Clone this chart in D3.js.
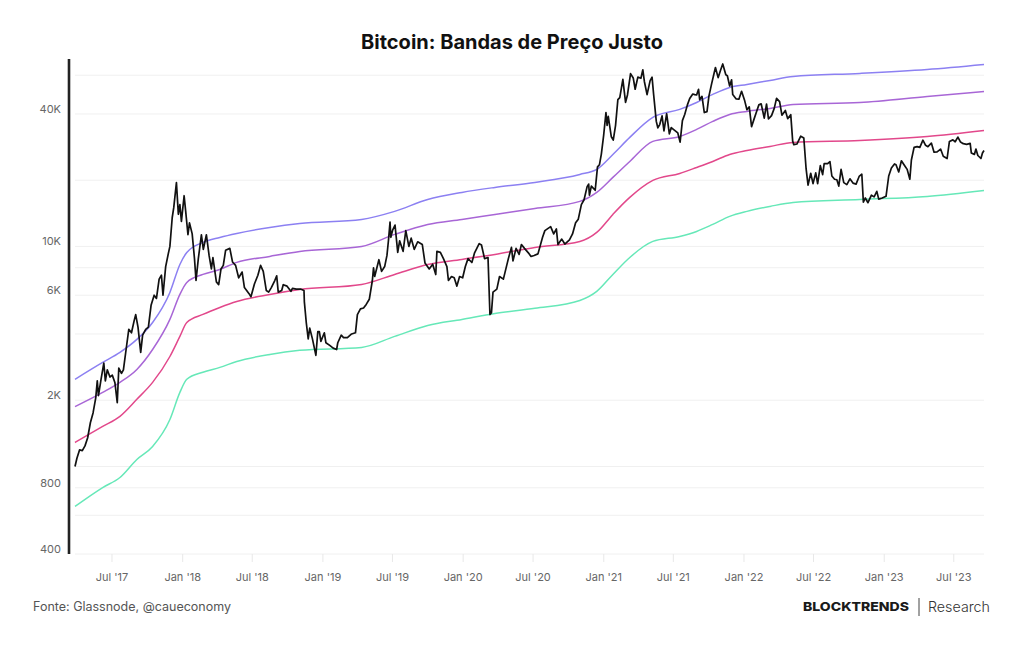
<!DOCTYPE html>
<html>
<head>
<meta charset="utf-8">
<script src="https://cdn.jsdelivr.net/npm/d3@7"></script>
<style>
  html, body { margin: 0; padding: 0; background: #ffffff; }
  svg { display: block; }
  text { font-family: Inter, "Noto Sans", sans-serif; }
</style>
</head>
<body>
<svg id="chart" width="1024" height="645"></svg>
<script>
// ---------------- DATA ----------------
const btcDates = [
"2017-03-28","2017-04-02","2017-04-09","2017-04-16","2017-04-23","2017-04-30","2017-05-07","2017-05-14","2017-05-21","2017-05-25","2017-05-28",
"2017-06-04","2017-06-11","2017-06-15","2017-06-20","2017-06-27","2017-07-03","2017-07-10","2017-07-16","2017-07-20","2017-07-27",
"2017-08-01","2017-08-08","2017-08-15","2017-08-22","2017-08-29","2017-09-02","2017-09-08","2017-09-15","2017-09-20","2017-09-28",
"2017-10-05","2017-10-12","2017-10-20","2017-10-26","2017-11-02","2017-11-08","2017-11-12","2017-11-19","2017-11-26","2017-11-30",
"2017-12-06","2017-12-10","2017-12-17","2017-12-22","2017-12-26","2017-12-30","2018-01-06","2018-01-10","2018-01-16","2018-01-20",
"2018-01-27","2018-02-02","2018-02-06","2018-02-12","2018-02-20","2018-02-25","2018-03-05","2018-03-12","2018-03-18","2018-03-22",
"2018-03-31","2018-04-06","2018-04-12","2018-04-18","2018-04-24","2018-05-05","2018-05-12","2018-05-20","2018-05-28","2018-06-06",
"2018-06-12","2018-06-24","2018-06-29","2018-07-08","2018-07-17","2018-07-24","2018-07-31","2018-08-08","2018-08-14","2018-08-21",
"2018-08-30","2018-09-04","2018-09-08","2018-09-17","2018-09-21","2018-10-01","2018-10-11","2018-10-15","2018-10-25","2018-11-05",
"2018-11-14","2018-11-15","2018-11-20","2018-11-25","2018-11-29","2018-12-06","2018-12-15","2018-12-20","2018-12-24","2018-12-28",
"2019-01-06","2019-01-10","2019-01-20","2019-01-29","2019-02-07","2019-02-10","2019-02-19","2019-02-25","2019-03-07","2019-03-18",
"2019-03-28","2019-04-02","2019-04-10","2019-04-18","2019-04-25","2019-05-03","2019-05-11","2019-05-14","2019-05-17","2019-05-28",
"2019-06-04","2019-06-12","2019-06-18","2019-06-22","2019-06-26","2019-06-28","2019-07-03","2019-07-09","2019-07-16","2019-07-21",
"2019-07-30","2019-08-06","2019-08-14","2019-08-20","2019-08-28","2019-09-06","2019-09-18","2019-09-25","2019-10-06","2019-10-15",
"2019-10-23","2019-10-26","2019-11-04","2019-11-12","2019-11-21","2019-11-25","2019-12-03","2019-12-10","2019-12-17","2019-12-24",
"2020-01-01","2020-01-08","2020-01-15","2020-01-25","2020-02-01","2020-02-13","2020-02-19","2020-02-27","2020-03-07","2020-03-12",
"2020-03-16","2020-03-20","2020-03-30","2020-04-06","2020-04-16","2020-04-29","2020-05-07","2020-05-11","2020-05-19","2020-05-27",
"2020-06-02","2020-06-10","2020-06-20","2020-06-27","2020-07-05","2020-07-15","2020-07-27","2020-08-02","2020-08-17","2020-08-25",
"2020-09-01","2020-09-05","2020-09-15","2020-09-23","2020-10-05","2020-10-13","2020-10-21","2020-10-28","2020-11-05","2020-11-12",
"2020-11-20","2020-11-24","2020-11-26","2020-12-01","2020-12-11","2020-12-17","2020-12-22","2020-12-27","2021-01-02","2021-01-08",
"2021-01-11","2021-01-14","2021-01-22","2021-01-27","2021-02-02","2021-02-08","2021-02-13","2021-02-21","2021-02-28","2021-03-05",
"2021-03-13","2021-03-20","2021-03-25","2021-04-01","2021-04-09","2021-04-14","2021-04-18","2021-04-25","2021-05-03","2021-05-08",
"2021-05-12","2021-05-19","2021-05-23","2021-05-28","2021-06-03","2021-06-08","2021-06-15","2021-06-22","2021-06-27","2021-07-05",
"2021-07-14","2021-07-20","2021-07-26","2021-08-01","2021-08-08","2021-08-14","2021-08-22","2021-08-27","2021-09-01","2021-09-06",
"2021-09-09","2021-09-15","2021-09-21","2021-09-28","2021-10-03","2021-10-10","2021-10-16","2021-10-20","2021-10-27","2021-11-02",
"2021-11-08","2021-11-16","2021-11-20","2021-11-26","2021-12-01","2021-12-04","2021-12-13","2021-12-20","2021-12-27","2022-01-04",
"2022-01-10","2022-01-16","2022-01-22","2022-01-28","2022-02-05","2022-02-10","2022-02-16","2022-02-24","2022-03-02","2022-03-07",
"2022-03-15","2022-03-22","2022-03-28","2022-04-05","2022-04-11","2022-04-20","2022-04-26","2022-05-04","2022-05-09","2022-05-12",
"2022-05-20","2022-05-30","2022-06-07","2022-06-13","2022-06-18","2022-06-25","2022-07-01","2022-07-08","2022-07-13","2022-07-20",
"2022-07-26","2022-07-30","2022-08-08","2022-08-14","2022-08-19","2022-08-26","2022-09-01","2022-09-06","2022-09-12","2022-09-19",
"2022-09-27","2022-10-05","2022-10-13","2022-10-21","2022-10-29","2022-11-05","2022-11-09","2022-11-14","2022-11-21","2022-11-30",
"2022-12-07","2022-12-14","2022-12-19","2022-12-28","2023-01-07","2023-01-14","2023-01-21","2023-01-29","2023-02-02","2023-02-09",
"2023-02-16","2023-02-25","2023-03-03","2023-03-10","2023-03-14","2023-03-21","2023-03-29","2023-04-05","2023-04-13","2023-04-20",
"2023-04-26","2023-05-05","2023-05-12","2023-05-20","2023-05-29","2023-06-05","2023-06-15","2023-06-21","2023-06-30","2023-07-06",
"2023-07-13","2023-07-20","2023-07-27","2023-08-05","2023-08-14","2023-08-17","2023-08-25","2023-08-29","2023-09-03","2023-09-11",
"2023-09-15","2023-09-19"
];
const btcValues = [
1000,1090,1190,1180,1240,1350,1580,1750,2050,2450,2100,
2500,2950,2450,2750,2550,2600,2400,1950,2800,2650,
2750,3400,4200,4050,4600,4900,4300,3300,3950,4200,
4300,5400,6000,5800,7100,7400,6000,8100,9300,10000,
13500,15000,19500,14000,15500,13000,17000,14500,11300,12800,
11400,8800,7000,8800,11300,9700,11300,9100,7900,8900,
6900,6700,7900,8200,9600,9800,8500,8200,7200,7650,
6500,6100,5900,6750,7400,8200,7700,6300,6200,6500,
7000,7350,6200,6300,6700,6600,6250,6450,6400,6400,
6300,5600,4500,3800,4250,3800,3200,4100,4100,3700,
4050,3650,3550,3450,3400,3650,3950,3850,3850,4000,
4050,4900,5200,5250,5450,5750,7000,8000,7300,8700,
7700,8100,9100,10700,12900,11000,11900,12500,9400,10600,
9500,11800,10000,10900,9700,10500,10200,8400,7900,8300,
7450,9500,9400,8800,8100,7000,7300,7200,6600,7300,
7200,8100,8800,8450,9350,10300,10150,8800,8900,4900,
5000,6200,6400,7300,7100,8800,9900,8600,9800,9200,
10200,9800,9350,9000,9100,9250,11000,11800,12300,11400,
12000,10200,10800,10250,10700,11400,12800,13300,15500,16300,
18700,19200,17100,18800,18000,23000,23500,26300,32000,40600,
35500,39000,31500,30400,35500,46500,47500,57500,45200,48800,
61000,58300,51800,58800,58100,63500,56200,49000,56700,58800,
49200,37000,34600,35800,39200,33500,40100,32500,34700,33800,
32800,29800,37300,39800,44000,47000,49300,49000,48800,51800,
46400,48100,40600,41000,48200,54800,60800,65000,58500,63000,
67500,60300,59700,53600,57200,49000,46800,46700,50700,46000,
41800,43100,35000,37700,41500,44000,44500,38300,44400,38000,
39300,42400,47100,45500,39500,41500,38100,39700,30100,29000,
29200,31700,31100,22500,19000,21500,19300,21600,19300,23300,
21200,23800,23800,24300,20900,20200,20100,18800,22400,19500,
19100,20300,19400,19200,20800,21300,15900,16600,15800,17100,
16800,17800,16400,16600,16900,20900,22700,23700,23500,21800,
24500,23200,22400,20200,24700,28200,28400,28200,30400,28800,
28400,29500,26800,26900,27700,25700,25100,30000,30500,29900,
31400,29800,29300,29100,29400,26600,26200,27700,25900,25100,
26600,27300
];

const bandDates = [
"2017-03-28","2017-06-08","2017-07-23","2017-09-05","2017-10-16","2017-11-30","2017-12-26","2018-01-13","2018-02-24","2018-04-09",
"2018-05-23","2018-08-17","2018-11-03","2019-04-13","2019-07-08","2019-10-02","2019-12-30","2020-03-25","2020-07-07","2020-11-01",
"2020-12-15","2021-01-26","2021-03-11","2021-05-10","2021-07-19","2021-09-01","2021-10-13","2021-11-26","2022-01-10","2022-03-11",
"2022-05-10","2022-10-31","2023-04-24","2023-09-19"
];
const blueBand = [
2490,2970,3300,3780,4510,6180,8280,9390,10430,10990,
11460,12200,12720,13270,14430,16350,17600,18540,19540,21250,
22390,26190,31300,38580,41950,45120,49090,52810,54500,56830,
59260,61150,63770,67200
];
const purpleBand = [
1870,2170,2410,2760,3400,4660,6050,6860,7460,7860,
8460,9010,9490,10000,11340,12590,13270,13980,14880,16020,
17600,20590,24340,30010,31620,34020,37000,39810,41080,42400,
44210,45120,48060,50640
];
const pinkBand = [
1285,1520,1690,2020,2410,3160,3900,4510,4910,5280,
5620,6050,6370,6720,7460,8280,8730,9200,9900,10540,
11580,13980,16700,19950,21470,22860,24340,26190,27310,28480,
29700,30320,31620,33670
];
const greenBand = [
658,802,891,1076,1233,1635,2170,2490,2680,2820,
3000,3230,3370,3475,3900,4375,4660,4960,5230,5680,
6245,7460,8910,10540,11100,11700,12590,13690,14430,15200,
15850,16350,16880,17970
];

const yGridTicks = [400, 600, 800, 1000, 2000, 4000, 6000, 8000, 10000, 20000, 40000, 60000];
const yLabelTicks = [400, 800, 2000, 6000, 10000, 40000];
const yLabelText = ["400", "800", "2K", "6K", "10K", "40K"];
const xTickDates = ["2017-07-01","2018-01-01","2018-07-01","2019-01-01","2019-07-01","2020-01-01","2020-07-01",
                    "2021-01-01","2021-07-01","2022-01-01","2022-07-01","2023-01-01","2023-07-01"];
const xTickLabels = ["Jul '17","Jan '18","Jul '18","Jan '19","Jul '19","Jan '20","Jul '20",
                     "Jan '21","Jul '21","Jan '22","Jul '22","Jan '23","Jul '23"];

// ---------------- CHART ----------------
const parse = d3.timeParse("%Y-%m-%d");
const svg = d3.select("#chart");

const x = d3.scaleTime()
  .domain([parse("2017-03-28"), parse("2023-09-19")])
  .range([75, 984]);
const y = d3.scaleLog()
  .domain([400, 71100])
  .range([554, 59]);

// title
svg.append("text")
  .attr("x", 512).attr("y", 49)
  .attr("text-anchor", "middle")
  .attr("font-size", 20).attr("font-weight", 700)
  .attr("fill", "#111")
  .text("Bitcoin: Bandas de Preço Justo");

// gridlines
svg.append("g").selectAll("line")
  .data(yGridTicks).join("line")
  .attr("x1", 75).attr("x2", 984)
  .attr("y1", d => y(d)).attr("y2", d => y(d))
  .attr("stroke", "#f0f0f0").attr("stroke-width", 1);

// x axis
const xAxis = d3.axisBottom(x)
  .tickValues(xTickDates.map(parse))
  .tickFormat((d, i) => xTickLabels[i])
  .tickSize(8).tickPadding(11);
const gx = svg.append("g").attr("transform", "translate(0,554)").call(xAxis);
gx.select(".domain").remove();
gx.selectAll(".tick line").attr("stroke", "#e8e8e8");
gx.selectAll(".tick text").attr("font-size", 11).attr("fill", "#666")
  .attr("font-family", "Inter, sans-serif");

// y axis labels
const yAxis = d3.axisLeft(y)
  .tickValues(yLabelTicks)
  .tickFormat((d, i) => yLabelText[i])
  .tickSize(0).tickPadding(0);
const gy = svg.append("g").attr("transform", "translate(61,-5)").call(yAxis);
gy.select(".domain").remove();
gy.selectAll(".tick text").attr("font-size", 11).attr("fill", "#666")
  .attr("font-family", "Inter, sans-serif");

// left axis bar
svg.append("line")
  .attr("x1", 69).attr("x2", 69).attr("y1", 59).attr("y2", 554)
  .attr("stroke", "#222").attr("stroke-width", 2.6);

// bands
const bandDateObjs = bandDates.map(parse);
const bandLine = d3.line()
  .x((d, i) => x(bandDateObjs[i]))
  .y(d => y(d))
  .curve(d3.curveMonotoneX);
const bands = [
  { values: greenBand,  color: "#66e8b8" },
  { values: pinkBand,   color: "#e2488b" },
  { values: purpleBand, color: "#a866d6" },
  { values: blueBand,   color: "#8c80f2" }
];
svg.append("g").selectAll("path")
  .data(bands).join("path")
  .attr("d", b => bandLine(b.values))
  .attr("fill", "none")
  .attr("stroke", b => b.color)
  .attr("stroke-width", 1.5);

// btc price
const btcDateObjs = btcDates.map(parse);
const btcLine = d3.line()
  .x((d, i) => x(btcDateObjs[i]))
  .y(d => y(d));
svg.append("path")
  .attr("d", btcLine(btcValues))
  .attr("fill", "none")
  .attr("stroke", "#111")
  .attr("stroke-width", 1.7)
  .attr("stroke-linejoin", "round");

// footer
svg.append("text")
  .attr("x", 33).attr("y", 611)
  .attr("font-size", 12.5).attr("fill", "#555")
  .text("Fonte: Glassnode, @caueconomy");

svg.append("text")
  .attr("x", 803).attr("y", 611)
  .attr("font-size", 12).attr("font-weight", 800).attr("fill", "#1a1a1a")
  .attr("font-family", "'Open Sans', Inter, sans-serif")
  .attr("textLength", 106).attr("lengthAdjust", "spacingAndGlyphs")
  .text("BLOCKTRENDS");
svg.append("line")
  .attr("x1", 919).attr("x2", 919).attr("y1", 598).attr("y2", 616)
  .attr("stroke", "#444").attr("stroke-width", 1);
svg.append("text")
  .attr("x", 928).attr("y", 612)
  .attr("font-size", 14).attr("font-weight", 300).attr("fill", "#333")
  .attr("textLength", 62).attr("lengthAdjust", "spacingAndGlyphs")
  .text("Research");
</script>
</body>
</html>
